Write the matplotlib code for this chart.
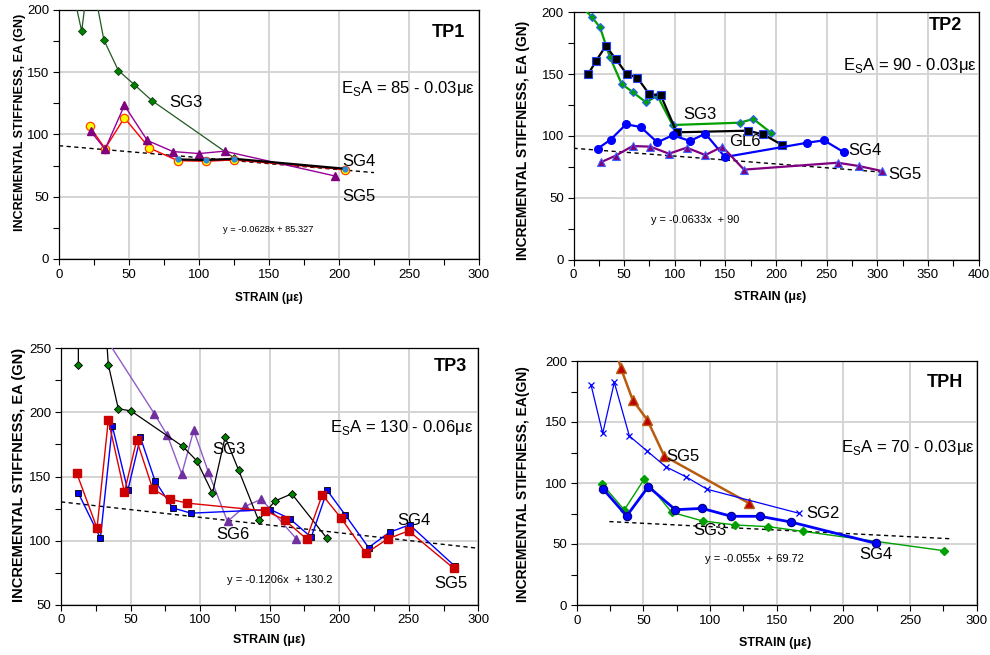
import matplotlib
matplotlib.use("Agg")
import matplotlib.pyplot as plt
from matplotlib.ticker import MultipleLocator

plt.rcParams['font.family'] = ['Liberation Sans', 'DejaVu Sans']
plt.rcParams['mathtext.fontset'] = 'custom'
plt.rcParams['mathtext.rm'] = 'Liberation Sans'

# ---- TP1 ----
tp1_sg3_x = [8, 16.2, 22, 32.1, 42.4, 53.8, 66.4, 125]
tp1_sg3_y = [225, 183, 235, 175.8, 151.4, 140, 127.2, 81.2]
tp1_red_x = [21.9, 32.9, 46.7, 64.5, 84.8, 105, 125, 204.3]
tp1_red_y = [106.5, 88.7, 113.4, 89.2, 79, 78.5, 79.6, 71.8]
tp1_sg5_x = [22.6, 32.9, 46.7, 63.1, 81.4, 100, 118.3, 197.1]
tp1_sg5_y = [102.7, 88.2, 123.4, 95.2, 86.3, 84.7, 86.6, 66.7]
tp1_sg4_x = [84.8, 105, 125, 204.3]
tp1_sg4_y = [80, 79.5, 80.5, 72.5]
tp1_fit_x = [0, 225]
tp1_fit_y = [91, 69.4]

# ---- TP2 ----
tp2_sg3_x = [5, 18.3, 26.2, 36, 47.6, 58.4, 71.6, 82.8, 97.9, 164.4, 177.6, 195]
tp2_sg3_y = [207.5, 196, 187.8, 163.6, 142, 135.5, 127.2, 132.5, 108.8, 110.7, 113.7, 102.6]
tp2_gl6_x = [14.6, 22.2, 31.8, 41.6, 52.5, 63, 74.9, 86.1, 101.9, 172, 187.2, 205.6]
tp2_gl6_y = [150, 160.6, 172.7, 162.5, 150, 147.1, 133.6, 133.1, 102.9, 104.2, 101.3, 92.9]
tp2_sg4_x = [23.9, 36.7, 51.9, 66.3, 82.8, 97.9, 115.1, 130.2, 149.6, 231, 247.4, 267.2]
tp2_sg4_y = [89.7, 97, 109.4, 107.2, 94.8, 100.5, 95.9, 101.8, 82.9, 94.5, 96.4, 86.7]
tp2_sg5_x = [26.8, 41.6, 58.4, 75.9, 94.3, 111.8, 130.2, 147, 168.4, 260.9, 282, 304.4]
tp2_sg5_y = [78.6, 84, 91.8, 91.3, 85.6, 90.5, 84.5, 91.3, 72.7, 78.3, 75.6, 71.6]
tp2_fit_x = [0, 305]
tp2_slope, tp2_icpt = -0.0633, 90

# ---- TP3 ----
tp3_sg5_x = [11.3, 25.9, 34, 45.6, 54.4, 65.9, 78.2, 90.9, 147, 160.7, 176.5, 187.8, 201.4,
             219.2, 234.8, 249.9, 282.3]
tp3_sg5_y = [152.6, 109.7, 194, 137.8, 178.4, 140.4, 132.3, 129.2, 123.2, 116.2, 101.3, 135.7,
             117.5, 90.1, 101.3, 107.6, 78.4]
tp3_sg4_x = [12.5, 28.3, 36.9, 48, 57.1, 67.6, 80.3, 93.5, 150.6, 164.3, 179.9, 191.4, 204.3,
             221.1, 236.2, 250.6, 283]
tp3_sg4_y = [137, 101.9, 189.4, 139.1, 180.5, 146.6, 125.5, 121.4, 124.2, 117.2, 102.6, 139.1,
             120.1, 94.6, 106.5, 112.3, 80.2]
tp3_sg3_x = [12.5, 11.5, 34, 41.2, 50.4, 87.5, 97.6, 108.9, 118, 127.8, 142, 154, 165.9, 191.1]
tp3_sg3_y = [237.3, 600, 237.3, 202.9, 201.1, 173.5, 162.3, 137, 180.8, 154.7, 115.9, 131,
             136.5, 101.9]
tp3_sg6_x = [25, 67.1, 76.5, 86.8, 95.4, 105.8, 119.7, 132.1, 144.1, 169.3]
tp3_sg6_y = [270, 199, 182, 151.9, 186, 153.9, 114.9, 126.6, 132.3, 101.3]
tp3_fit_x = [0, 300]
tp3_slope, tp3_icpt = -0.1206, 130.2

# ---- TPH ----
tph_sg5_x = [28, 33, 42, 53, 65.7, 129.5]
tph_sg5_y = [215, 194.5, 168, 151.6, 122.1, 83.3]
tph_sg2_x = [10.7, 19.5, 28.2, 39.5, 52.5, 66.7, 81.7, 98, 167]
tph_sg2_y = [180.6, 140.7, 182.5, 138.5, 126.5, 113.4, 105.2, 94.8, 75.1]
tph_sg4_x = [20, 37.5, 53.7, 74, 94, 116, 137.5, 160.7, 224.5]
tph_sg4_y = [94.8, 73, 97, 78.1, 79.2, 72.7, 72.7, 68, 50.5]
tph_sg3_x = [19.2, 35.7, 50.7, 71.2, 94.5, 118.7, 143.7, 169.5, 275.5]
tph_sg3_y = [98.9, 77.9, 103.3, 76, 68.9, 65.6, 64.2, 60.4, 44.5]
tph_fit_x = [24.5, 280]
tph_slope, tph_icpt = -0.055, 69.72

W, H = 990, 655
fig = plt.figure(figsize=(W / 100, H / 100), dpi=100)

LABEL_FS = 12
TITLE_FS = 13
TICK_FS = 9.5


def px_axes(left, top, right, bottom):
    return fig.add_axes([left / W, 1 - bottom / H, (right - left) / W, (bottom - top) / H])


def style_axes(ax, xmax, ymin, ymax):
    ax.set_xlim(0, xmax)
    ax.set_ylim(ymin, ymax)
    ax.xaxis.set_major_locator(MultipleLocator(50))
    ax.xaxis.set_minor_locator(MultipleLocator(25))
    ax.yaxis.set_major_locator(MultipleLocator(50))
    ax.yaxis.set_minor_locator(MultipleLocator(25))
    ax.grid(True, which='major', color='#d4d4d4', lw=1.4)
    ax.set_axisbelow(True)
    ax.tick_params(which='both', direction='out', length=4, width=0.8, labelsize=TICK_FS, pad=3)
    for s in ax.spines.values():
        s.set_color('black')
        s.set_linewidth(0.9)


def fit_line(ax, xs, slope=None, icpt=None, ys=None):
    if ys is None:
        ys = [slope * x + icpt for x in xs]
    ax.plot(xs, ys, ls=(0, (3, 2.5)), color='black', lw=1.0, zorder=2)


def esa(ax, x, y, text):
    ax.text(x, y, r'E$_{\mathregular{S}}$A = ' + text, fontsize=LABEL_FS, ha='center', va='center')


# ---------------- TP1 ----------------
ax1 = px_axes(59, 10, 479, 259)
style_axes(ax1, 300, 0, 200)
fit_line(ax1, tp1_fit_x, ys=tp1_fit_y)
ax1.plot(tp1_sg3_x, tp1_sg3_y, color='#1f5a1f', lw=0.9, marker='D', ms=4.5,
         mfc='#008000', mec='#0b3d0b', mew=0.6, zorder=3)
ax1.plot(tp1_red_x, tp1_red_y, color='#ff0000', lw=1.0, marker='o', ms=6,
         mfc='#ffff00', mec='#ff4000', mew=0.9, zorder=4)
ax1.plot(tp1_sg5_x, tp1_sg5_y, color='#990099', lw=1.0, marker='^', ms=6,
         mfc='#800080', mec='#800080', zorder=4)
ax1.plot(tp1_sg4_x, tp1_sg4_y, color='black', lw=1.6, marker='o', ms=3.5,
         mfc='#2e8bd8', mec='#2e8bd8', zorder=5)
ax1.text(91, 125.6, 'SG3', fontsize=LABEL_FS, ha='center', va='center')
ax1.text(214, 78, 'SG4', fontsize=LABEL_FS, ha='center', va='center')
ax1.text(214, 49.8, 'SG5', fontsize=LABEL_FS, ha='center', va='center')
ax1.text(278, 182, 'TP1', fontsize=TITLE_FS, fontweight='bold', ha='center', va='center')
esa(ax1, 249.5, 137, '85 - 0.03με')
ax1.text(149.5, 24, 'y = -0.0628x + 85.327', fontsize=6.7, ha='center', va='center')

# ---------------- TP2 ----------------
ax2 = px_axes(573.5, 12.3, 978.5, 259.5)
style_axes(ax2, 400, 0, 200)
fit_line(ax2, tp2_fit_x, tp2_slope, tp2_icpt)
ax2.plot(tp2_sg3_x, tp2_sg3_y, color='#00a000', lw=1.6, marker='D', ms=4,
         mfc='#00a000', mec='#3060ff', mew=0.8, zorder=3)
ax2.plot(tp2_gl6_x, tp2_gl6_y, color='black', lw=1.6, marker='s', ms=5.5,
         mfc='black', mec='#2040ff', mew=0.8, zorder=4)
ax2.plot(tp2_sg4_x, tp2_sg4_y, color='#0000ff', lw=1.6, marker='o', ms=5.5,
         mfc='#0000ff', mec='#0000ff', zorder=4)
ax2.plot(tp2_sg5_x, tp2_sg5_y, color='#800080', lw=1.6, marker='^', ms=6,
         mfc='#800080', mec='#4060ff', mew=0.8, zorder=4)
ax2.text(125, 117, 'SG3', fontsize=LABEL_FS, ha='center', va='center')
ax2.text(169.4, 95.3, 'GL6', fontsize=LABEL_FS, ha='center', va='center')
ax2.text(271.4, 88, 'SG4', fontsize=LABEL_FS, ha='left', va='center')
ax2.text(327.4, 68.4, 'SG5', fontsize=LABEL_FS, ha='center', va='center')
ax2.text(367, 189.7, 'TP2', fontsize=TITLE_FS, fontweight='bold', ha='center', va='center')
esa(ax2, 332, 156.8, '90 - 0.03με')
ax2.text(120, 32, 'y = -0.0633x  + 90', fontsize=7.9, ha='center', va='center')

# ---------------- TP3 ----------------
ax3 = px_axes(61, 348.3, 478.3, 604.7)
style_axes(ax3, 300, 50, 250)
fit_line(ax3, tp3_fit_x, tp3_slope, tp3_icpt)
ax3.plot(tp3_sg6_x, tp3_sg6_y, color='#8e5cc8', lw=1.0, marker='^', ms=6,
         mfc='#7030a0', mec='#7030a0', zorder=3)
ax3.plot(tp3_sg3_x, tp3_sg3_y, color='black', lw=0.9, marker='D', ms=4.2,
         mfc='#008000', mec='black', mew=0.6, zorder=3)
ax3.plot(tp3_sg4_x, tp3_sg4_y, color='#0000ff', lw=1.0, marker='s', ms=4,
         mfc='#0000ff', mec='black', mew=0.6, zorder=4)
ax3.plot(tp3_sg5_x, tp3_sg5_y, color='#dd0000', lw=1.0, marker='s', ms=6,
         mfc='#cc0000', mec='#cc0000', zorder=4)
ax3.text(120.9, 170.9, 'SG3', fontsize=LABEL_FS, ha='center', va='center')
ax3.text(123.5, 104.5, 'SG6', fontsize=LABEL_FS, ha='center', va='center')
ax3.text(254, 116, 'SG4', fontsize=LABEL_FS, ha='center', va='center')
ax3.text(280.3, 66.7, 'SG5', fontsize=LABEL_FS, ha='center', va='center')
ax3.text(279.9, 235.5, 'TP3', fontsize=TITLE_FS, fontweight='bold', ha='center', va='center')
esa(ax3, 245, 188.6, '130 - 0.06με')
ax3.text(157.6, 69.3, 'y = -0.1206x  + 130.2', fontsize=8, ha='center', va='center')

# ---------------- TPH ----------------
ax4 = px_axes(576.7, 361, 976.7, 605)
style_axes(ax4, 300, 0, 200)
fit_line(ax4, tph_fit_x, tph_slope, tph_icpt)
ax4.plot(tph_sg5_x, tph_sg5_y, color='#b85c10', lw=1.8, marker='^', ms=6.5,
         mfc='#c00000', mec='#b85c10', zorder=3)
ax4.plot(tph_sg2_x, tph_sg2_y, color='#0000ff', lw=0.9, marker='x', ms=5,
         mec='#0000ff', mew=0.9, zorder=3)
ax4.plot(tph_sg3_x, tph_sg3_y, color='#00a000', lw=1.0, marker='D', ms=4,
         mfc='#00a000', mec='#00a000', zorder=4)
ax4.plot(tph_sg4_x, tph_sg4_y, color='#0000ff', lw=2.0, marker='o', ms=6,
         mfc='#0000ff', mec='#000080', mew=0.8, zorder=4)
ax4.text(80, 122, 'SG5', fontsize=LABEL_FS, ha='center', va='center')
ax4.text(185, 75.2, 'SG2', fontsize=LABEL_FS, ha='center', va='center')
ax4.text(100, 60.7, 'SG3', fontsize=LABEL_FS, ha='center', va='center')
ax4.text(224.5, 41.8, 'SG4', fontsize=LABEL_FS, ha='center', va='center')
ax4.text(276.2, 182.5, 'TPH', fontsize=TITLE_FS, fontweight='bold', ha='center', va='center')
esa(ax4, 248.7, 129, '70 - 0.03με')
ax4.text(133.2, 37.7, 'y = -0.055x  + 69.72', fontsize=8, ha='center', va='center')

# axis titles
ylab = 'INCREMENTAL STIFFNESS, EA (GN)'
fig.text(20 / W, 1 - 122 / H, ylab, rotation=90, fontsize=9, fontweight='bold', ha='center', va='center')
fig.text(523 / W, 1 - 140 / H, ylab, rotation=90, fontsize=10, fontweight='bold', ha='center', va='center')
fig.text(19 / W, 1 - 475 / H, ylab, rotation=90, fontsize=10.5, fontweight='bold', ha='center', va='center')
fig.text(523 / W, 1 - 484 / H, 'INCREMENTAL STIFFNESS, EA(GN)', rotation=90, fontsize=10,
         fontweight='bold', ha='center', va='center')
fig.text(269 / W, 1 - 298 / H, 'STRAIN (με)', fontsize=8.5, fontweight='bold', ha='center', va='center')
fig.text(770 / W, 1 - 297 / H, 'STRAIN (με)', fontsize=9, fontweight='bold', ha='center', va='center')
fig.text(269 / W, 1 - 640 / H, 'STRAIN (με)', fontsize=9, fontweight='bold', ha='center', va='center')
fig.text(775 / W, 1 - 643 / H, 'STRAIN (με)', fontsize=9, fontweight='bold', ha='center', va='center')

fig.savefig('out.png', dpi=100)
